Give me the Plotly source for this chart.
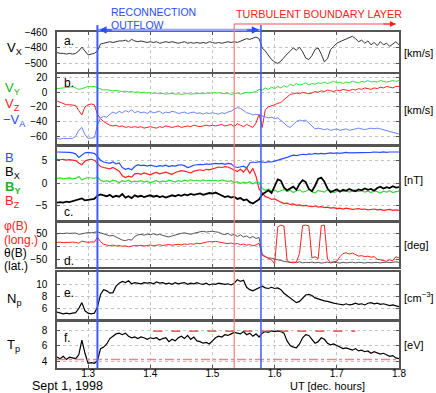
import numpy as np
import plotly.graph_objects as go

# UT in decimal hours, sampled every 0.005 h
ut = np.round(np.arange(1.25, 1.8001, 0.005), 3)

# a. Vx [km/s]
vx = [-486, -487, -487, -488, -487, -488, -487, -484, -479, -484, -489, -488, -487,
      -484,
      -475, -474, -473, -472, -473, -472, -471, -471, -470, -472, -469, -471,
      -472, -471, -472, -473, -472, -473, -472, -474, -473, -472, -473, -472, -473,
      -474, -473, -472, -474, -473, -474, -473, -474, -473, -474, -472, -473,
      -474, -473, -474, -473, -472, -473, -472, -473, -471, -470, -468, -469, -467, -466,
      -468,
      -480, -484, -490, -495, -498, -500, -497, -492, -488, -484, -480, -483, -479, -485,
      -493, -495, -490, -482, -480, -488, -498, -494, -482, -478, -474, -472, -470, -468,
      -466, -465, -468, -472, -470, -474, -471, -476, -473, -477, -472, -476, -474, -478,
      -475, -472, -476]

# b. Vy, Vz, -VA [km/s]
vy = [5, 5.5, 6, 6.5, 7, 7.5, 6, 4, 5, 7, 8, 7.5, 8,
      6,
      4, 3, 3.5, 2.5, 2, 2.5, 1.5, 1, 1.5, 0.5, 1, 0,
      0.5, -0.5, 0, -1, -0.5, -1.5, -1, -2, -1.5, -2.5, -2, -1.5, -2.5, -2, -3,
      -2, -1.5, -2.5, -2, -1, -1.5, -2, -1, -1.5, -0.5,
      -1, -0.5, -1.5, -2, -1, -3, -2, -1, -2.5, -1, 0, -1, 0.5, 1,
      4,
      3, 6, 4, 7, 5, 8, 6, 9, 7, 11, 9, 12, 10, 11, 13, 10, 12, 11, 13, 12,
      14, 12, 13, 15, 13, 14, 12, 14, 13, 15, 14, 13, 15, 14, 16, 14, 15, 14, 16, 15,
      14, 15, 16, 15, 16]
vz = [-12, -14, -16, -17, -17, -17, -18, -25, -31, -20, -17, -16, -17,
      -30,
      -36, -40, -43, -45, -46, -45, -47, -46, -48, -47, -48, -47,
      -48, -47, -49, -48, -47, -48, -49, -47, -48, -46, -47, -48, -47, -46, -48,
      -47, -46, -47, -45, -46, -47, -46, -45, -46, -45,
      -46, -45, -44, -46, -45, -44, -47, -43, -45, -47, -44, -46, -48, -42,
      -30,
      -48, -24, -20, -19, -17, -15, -14, -10, -6, -3, -2, -1, -2, 0, -1, -2, -1, 1, 0, 2,
      1, 3, 2, 1, 3, 2, 4, 3, 2, 4, 3, 5, 4, 6, 5, 4, 6, 5, 7, 6, 8, 7, 6, 8, 8]
neg_va = [-63, -64, -63, -63, -62, -63, -60, -52, -48, -58, -63, -63, -62,
          -45,
          -35, -33, -34, -30, -27, -29, -26, -28, -25, -27, -24, -28,
          -26, -28, -27, -29, -26, -28, -27, -26, -29, -27, -28, -26, -27, -29, -28,
          -27, -29, -28, -27, -29, -28, -30, -28, -29, -28,
          -29, -30, -28, -29, -27, -26, -23, -21, -22, -25, -28, -29, -31, -30,
          -31,
          -33, -34, -35, -34, -36, -35, -38, -42, -46, -48, -44, -40, -38, -39, -38,
          -42, -47, -50, -49, -50, -51, -50, -52, -51, -50, -52, -51, -50, -52, -51,
          -50, -49, -50, -51, -50, -49, -50, -49, -50, -51, -52, -53, -55, -56, -57]

# c. |B|, Bx, By, Bz [nT]
b_mag = [6.8, 6.8, 6.7, 6.8, 6.7, 6.6, 6.4, 5.6, 6.2, 6.6, 6.7, 6.6, 6.5,
         5.8,
         5.0, 4.6, 4.5, 4.3, 4.6, 4.2, 4.4, 3.4, 3.0, 3.2, 2.9, 3.6,
         4.0, 3.8, 3.9, 3.7, 3.9, 3.8, 3.6, 3.8, 3.7, 3.9, 3.6, 3.8, 3.7, 3.9, 4.0,
         3.8, 3.4, 3.6, 3.9, 4.0, 4.1, 4.0, 4.2, 4.1, 4.2,
         4.3, 4.2, 4.3, 4.1, 4.3, 4.2, 3.6, 3.4, 3.5, 3.7, 3.3, 4.4, 4.6, 4.5,
         4.7,
         4.6, 4.5, 4.7, 4.6, 4.8, 5.0, 5.1, 5.3, 5.6, 5.9, 6.1, 6.0, 6.2, 6.3, 6.2,
         6.4, 6.3, 6.5, 6.4, 6.5, 6.4, 6.5, 6.6, 6.5, 6.6, 6.5, 6.6, 6.7, 6.6, 6.6,
         6.7, 6.6, 6.7, 6.7, 6.6, 6.7, 6.8, 6.7, 6.7, 6.8, 6.7, 6.8, 6.8, 6.7, 6.8]
bx = [-4.3, -4.2, -4.3, -4.1, -4.2, -4.0, -3.9, -3.6, -3.4, -3.8, -3.7, -3.6, -3.5,
      -2.8,
      -2.5, -2.7, -2.9, -2.6, -3.1, -2.8, -3.0, -2.4, -3.2, -2.9, -3.3, -2.7,
      -3.0, -2.8, -3.1, -2.9, -2.7, -3.0, -2.8, -3.1, -2.9, -3.2, -3.0, -2.7, -2.9,
      -2.6, -2.8, -2.5, -2.7, -2.4, -2.6, -2.5, -2.3, -2.6, -2.4, -2.2, -2.3,
      -2.1, -2.4, -2.8, -3.1, -2.9, -3.2, -3.0, -3.5, -3.3, -3.8, -3.6, -4.2, -4.5, -4.1,
      -3.6,
      -2.5, -2.0, -1.6, -2.2, -0.5, 0.8, 0.5, -1.0, -1.6, -1.2, -0.8, -1.5, -0.2, 0.6,
      0.2, -1.3, -1.8, -0.6, 0.9, 1.2, 0.3, -1.2, -2.0, -1.7, -1.4, -1.9, -1.5, -1.7,
      -1.3, -1.6, -1.8, -1.4, -1.6, -1.2, -1.5, -1.3, -1.7, -1.1, -0.8, -1.2, -0.9,
      -1.1, -0.7, -1.0, -0.9]
by = [1.0, 1.1, 0.9, 1.0, 1.1, 0.9, 1.0, 1.4, 0.7, 1.0, 1.2, 1.1, 1.0,
      1.3,
      0.6, 0.3, 0.5, 0.2, 0.6, 0.4, 0.1, 0.5, 0.3, 0.6, 0.2, 0.4,
      0.3, 0.5, 0.2, 0.4, 0.1, 0.3, 0.5, 0.2, 0.4, 0.3, 0.6, 0.4, 0.2, 0.5, 0.3,
      0.6, 0.4, 0.7, 0.5, 0.6, 0.4, 0.7, 0.5, 0.6, 0.5,
      0.6, 0.4, 0.7, 0.5, 0.3, 0.5, 0.1, 0.3, -0.1, 0.2, 0.0, 0.3, -0.2, 0.2,
      0.1,
      -1.2, -1.6, -1.3, -1.8, -1.5, -2.0, -1.7, -1.4, -1.9, -1.6, -2.1, -1.7, -1.5,
      -2.0, -1.8, -1.4, -1.9, -2.2, -1.6, -1.8, -2.0, -1.5, -1.7, -2.1, -1.8, -1.6,
      -1.9, -1.7, -2.0, -1.8, -1.5, -1.9, -1.7, -2.0, -1.8, -2.1, -1.7, -1.9, -2.2,
      -1.8, -2.0, -1.7, -2.1, -1.9, -1.8]
bz = [5.2, 5.1, 5.2, 5.0, 5.1, 5.0, 4.9, 4.4, 4.0, 4.8, 5.1, 5.2, 5.0,
      4.3,
      3.6, 3.4, 3.3, 3.1, 3.4, 3.0, 2.6, 1.6, 1.2, 1.5, 1.3, 2.0,
      2.1, 1.9, 2.2, 2.0, 1.8, 2.1, 2.3, 2.0, 2.2, 2.4, 2.1, 1.9, 2.3, 2.5, 2.7,
      2.6, 2.4, 2.2, 2.6, 2.8, 2.9, 2.7, 3.0, 2.9, 3.1,
      3.3, 3.5, 3.4, 3.6, 3.5, 3.2, 2.8, 2.5, 3.0, 2.4, 3.3, 2.1, 3.2, 1.5,
      -1.3,
      -2.2, -3.0, -3.2, -3.6, -3.5, -3.9, -4.2, -4.5, -4.4, -4.7, -4.6, -4.9, -4.8,
      -5.0, -4.9, -5.1, -5.2, -5.0, -5.3, -5.2, -5.4, -5.3, -5.5, -5.4, -5.6, -5.5,
      -5.7, -5.5, -5.6, -5.8, -5.7, -5.6, -5.8, -5.7, -5.9, -5.8, -5.7, -5.9, -5.8,
      -6.0, -5.9, -5.8, -6.0, -5.9, -6.0]

# d. field angles [deg]
theta = [48, 50, 49, 51, 50, 52, 51, 46, 49, 52, 53, 52, 54,
         56,
         52, 48, 45, 40, 42, 36, 30, 24, 22, 26, 24, 38,
         44, 46, 43, 47, 45, 48, 44, 46, 42, 38, 36, 40, 44, 47, 50, 52, 48, 46, 50,
         54, 56, 58, 55, 57, 58,
         56, 54, 48, 45, 50, 42, 46, 38, 44, 36, 40, 32, 38, 30,
         34,
         -30, -40, -45, -46, -50, -52, -55, -58, -60, -62, -61, -63, -60, -64, -62,
         -63, -61, -64, -62, -65, -63, -61, -64, -62, -63, -65, -62, -64, -63, -61,
         -64, -62, -63, -65, -62, -64, -63, -62, -64, -63, -61, -63, -62, -60, -62]
phi = [15, 16, 14, 15, 17, 16, 15, 12, 20, 16, 15, 17, 16,
       35,
       18, 8, 4, 2, 5, 1, 3, 0, 2, -2, 1, 3,
       2, 4, 1, 3, 5, 2, 4, 6, 3, 5, 7, 4, 6, 8, 5, 9, 7, 10, 8, 12, 10, 14, 16, 18, 17,
       19, 16, 14, 12, 10, 13, 8, 11, 6, 9, 4, 7, 2, 5,
       12,
       -35, -40, -48, -52, -68, 75, 82, 78, -55, -62, -64, -60, -28, 80, 82, 79,
       -45, -40, -48, 80, 82, -50, -62, -60, -58, -40, -28, -25, -30, -26, -32,
       -38, -36, -40, -38, -42, -40, -50, -52, -55, -58, -52, -56, -40, -45]

# e. Np [cm^-3]
n_p = [5.4, 5.2, 5.1, 5.2, 5.1, 5.2, 5.3, 6.0, 7.0, 5.6, 5.2, 5.1, 5.2,
       6.2,
       8.4, 9.2, 9.0, 8.6, 8.7, 9.8, 10.3, 10.6, 10.4, 10.7, 10.2, 10.4,
       10.3, 10.2, 10.4, 10.3, 10.4, 10.2, 10.5, 10.3, 10.4, 10.2, 10.3, 10.1, 10.4,
       10.2, 10.3, 10.4, 10.1, 10.3, 10.2, 10.4, 10.2, 10.1, 10.3, 10.0, 10.2,
       10.1, 10.3, 10.2, 10.1, 10.2, 10.0, 10.3, 10.9, 10.6, 10.8, 9.6, 9.2, 9.0, 9.3,
       9.6,
       9.8, 9.5, 9.4, 9.6, 9.4, 9.5, 9.2, 8.6, 8.2, 7.9, 7.4, 7.0, 7.2, 7.8, 8.3,
       8.4, 8.2, 7.8, 7.6, 7.5, 7.3, 7.2, 7.0, 6.9, 6.8, 6.7, 6.6, 6.8, 6.6, 6.7,
       6.9, 6.7, 6.8, 6.6, 6.9, 7.0, 6.8, 6.9, 6.7, 6.8, 6.6, 6.5, 6.6, 6.4, 6.3]

# f. Tp [eV]
t_p = [4.5, 4.3, 4.6, 4.2, 4.5, 4.4, 4.3, 4.8, 6.7, 5.0, 3.7, 3.8, 3.7,
       4.0,
       5.6, 5.8, 6.2, 6.9, 7.2, 7.5, 7.6, 7.4, 7.6, 7.2, 7.0, 7.1,
       6.9, 7.1, 7.0, 6.8, 7.0, 6.9, 7.0, 6.7, 6.9, 7.0, 6.5, 6.8, 6.6, 7.0, 7.2,
       6.9, 7.3, 6.8, 7.1, 6.6, 6.5, 6.3, 6.4, 6.2, 6.6,
       7.0, 7.2, 7.1, 7.4, 7.3, 7.5, 7.7, 7.6, 7.5, 7.8, 7.4, 7.6, 7.2, 7.5,
       7.1,
       7.6, 7.8, 7.7, 7.9, 7.8, 7.9, 7.8, 7.6, 6.6, 6.0, 5.8, 5.7, 6.2, 7.0, 7.4,
       7.3, 6.8, 6.3, 6.5, 7.0, 6.8, 6.3, 6.1, 6.2, 6.0, 5.8, 5.6, 5.7, 5.5, 5.4,
       5.6, 5.3, 5.4, 5.2, 5.3, 5.0, 5.2, 5.1, 4.9, 5.0, 4.8, 4.6, 4.7, 4.4, 4.3]

# reference temperature levels in panel f
tp_high_x = [1.405, 1.73]
tp_high_y = [7.85, 7.85]
tp_low_x = [1.25, 1.8]
tp_low_y = [4.2, 4.2]

# event times [UT dec. hours]
t_outflow_start = 1.315
t_tbl_start = 1.535
t_outflow_end = 1.578
t_tbl_end = 1.795

X_RANGE = [1.25, 1.8]

# page geometry (pixels)
W, H = 436, 393
PLOT_L, PLOT_R, PLOT_T, PLOT_B = 57, 399, 32, 368
ML, MT = PLOT_L, PLOT_T
MR, MB = W - PLOT_R, H - PLOT_B
PW = PLOT_R - PLOT_L
PH = PLOT_B - PLOT_T


def px(xp):
    return (xp - PLOT_L) / PW


def py(yp):
    return (PLOT_B - yp) / PH


def tx(t):
    return (t - X_RANGE[0]) / (X_RANGE[1] - X_RANGE[0])


RED = '#ff2020'
GREEN = '#33dd33'
BLUE = '#2a4cff'
LBLUE = '#6a82ff'
FONT = 'Liberation Sans, Arial, sans-serif'

# panel pixel extents (top, bottom)
panels = [(32, 72), (74, 143.5), (146.5, 219.5), (223, 267), (272, 318.5), (321.5, 368)]
y_ranges = [[-511, -459.5], [-70, 25], [-8, 8], [-80, 90], [4.3, 12.2], [3.1, 9.1]]
y_ticks = [[-500, -480, -460], [-60, -40, -20, 0, 20], [-5, 0, 5], [-50, 0, 50], [6, 8, 10], [4, 6, 8]]

fig = go.Figure()


def add(k, y, color, width):
    suffix = '' if k == 1 else str(k)
    fig.add_trace(go.Scatter(x=ut, y=y, mode='lines', line=dict(color=color, width=width),
                             xaxis='x' + suffix, yaxis='y' + suffix, hoverinfo='skip'))


add(1, vx, '#333333', 1)
add(2, vy, GREEN, 1)
add(2, vz, RED, 1)
add(2, neg_va, LBLUE, 1)
add(3, b_mag, BLUE, 1.2)
add(3, bz, RED, 1.2)
add(3, by, GREEN, 1.2)
add(3, bx, 'black', 1.8)
add(4, theta, '#555555', 1)
add(4, phi, RED, 1)
add(5, n_p, 'black', 1.2)
add(6, t_p, 'black', 1.2)
fig.add_trace(go.Scatter(x=tp_high_x, y=tp_high_y, mode='lines', xaxis='x6', yaxis='y6',
                         line=dict(color='#ee3333', width=1.2, dash='dash'), hoverinfo='skip'))
fig.add_trace(go.Scatter(x=tp_low_x, y=tp_low_y, mode='lines', xaxis='x6', yaxis='y6',
                         line=dict(color='#ff8080', width=1.5, dash='dashdot'), hoverinfo='skip'))

axis_common = dict(showline=True, mirror='ticks', linecolor='#555555', linewidth=1.5,
                   ticks='inside', ticklen=3, tickcolor='#555555', automargin=False,
                   showgrid=True, gridcolor='#c4c4c4', griddash='dot', gridwidth=1,
                   zeroline=False, tickfont=dict(size=10, color='black', family=FONT))

layout = dict(width=W, height=H, margin=dict(l=ML, r=MR, t=MT, b=MB, autoexpand=False),
              paper_bgcolor='white', plot_bgcolor='white', showlegend=False,
              font=dict(family=FONT, color='black'))

for k in range(1, 7):
    suffix = '' if k == 1 else str(k)
    top, bot = panels[k - 1]
    layout['xaxis' + suffix] = dict(axis_common, domain=[0, 1], range=X_RANGE,
                                    anchor='y' + suffix,
                                    tickvals=[1.3, 1.4, 1.5, 1.6, 1.7, 1.8],
                                    ticktext=['1.3', '1.4', '1.5', '1.6', '1.7', '1.8'],
                                    showticklabels=(k == 6), ticklabelstandoff=-5)
    layout['yaxis' + suffix] = dict(axis_common, domain=[py(bot), py(top)],
                                    range=y_ranges[k - 1], anchor='x' + suffix,
                                    tickvals=y_ticks[k - 1], ticklabelstandoff=6)

fig.update_layout(**layout)

ann = []


def label(text, xp, yp, color='black', size=13, anchor='left'):
    ann.append(dict(text=text, x=px(xp), y=py(yp), xref='paper', yref='paper',
                    xanchor=anchor, yanchor='middle', showarrow=False,
                    font=dict(size=size, color=color, family=FONT)))


# quantity labels on the left
label('V<sub>X</sub>', 5, 48)
label('V<sub>Y</sub>', 3, 89, '#22b022')
label('V<sub>Z</sub>', 3, 104, RED)
label('−V<sub>A</sub>', 1, 121, BLUE)
label('B', 3, 157, BLUE)
label('B<sub>X</sub>', 3, 172)
label('<b>B<sub>Y</sub></b>', 3, 187, '#22b022')
label('B<sub>Z</sub>', 3, 201, RED)
label('φ(B)', 2, 226, RED, 12)
label('(long.)', 2, 240, RED, 12)
label('θ(B)', 2, 253, 'black', 12)
label('(lat.)', 2, 266, 'black', 12)
label('N<sub>p</sub>', 5, 299)
label('T<sub>p</sub>', 5, 345)

# units on the right
label('[km/s]', 402, 53, size=11)
label('[km/s]', 402, 110, size=11)
label('[nT]', 402, 180, size=11)
label('[deg]', 402, 245, size=11)
label('[cm<sup>−3</sup>]', 402, 297, size=11)
label('[eV]', 402, 345, size=11)

# panel letters
for letter, yp in zip(['a.', 'b.', 'c.', 'd.', 'e.', 'f.'], [41, 83, 212, 261, 293, 338]):
    label(letter, 62, yp, size=12)

label('Sept 1, 1998', 67, 386, size=12.5, anchor='center')
label('UT [dec. hours]', 327, 386, size=11, anchor='center')

label('RECONNECTION', 109, 12, BLUE, 10.5)
label('OUTFLOW', 109, 25, BLUE, 10.5)
label('TURBULENT BOUNDARY LAYER', 234, 14, RED, 10.8)

# arrow heads
y_blue_arrow = py(30)
y_red_arrow = py(24)
ann.append(dict(x=tx(t_outflow_start) + 0.005, y=y_blue_arrow, xref='paper', yref='paper',
                ax=14, ay=0, showarrow=True, arrowhead=2, arrowsize=1, arrowwidth=1.5,
                arrowcolor=BLUE, text=''))
ann.append(dict(x=tx(t_outflow_end) - 0.005, y=y_blue_arrow, xref='paper', yref='paper',
                ax=-14, ay=0, showarrow=True, arrowhead=2, arrowsize=1, arrowwidth=1.5,
                arrowcolor=BLUE, text=''))
ann.append(dict(x=tx(t_tbl_end), y=y_red_arrow, xref='paper', yref='paper',
                ax=-14, ay=0, showarrow=True, arrowhead=2, arrowsize=1, arrowwidth=1.2,
                arrowcolor=RED, text=''))
fig.update_layout(annotations=ann)

shapes = [
    dict(type='line', xref='paper', yref='paper', x0=tx(t_outflow_start), x1=tx(t_outflow_end),
         y0=y_blue_arrow, y1=y_blue_arrow, line=dict(color='#95a5ff', width=2.5)),
    dict(type='line', xref='paper', yref='paper', x0=tx(t_tbl_start), x1=tx(t_tbl_end),
         y0=y_red_arrow, y1=y_red_arrow, line=dict(color='#ff5050', width=1.2)),
    dict(type='line', xref='paper', yref='paper', x0=tx(t_tbl_start), x1=tx(t_tbl_start),
         y0=0, y1=y_red_arrow, line=dict(color='#ff7a7a', width=1.2)),
    dict(type='line', xref='paper', yref='paper', x0=tx(t_outflow_start), x1=tx(t_outflow_start),
         y0=0, y1=py(25), line=dict(color='#3d5cff', width=2)),
    dict(type='line', xref='paper', yref='paper', x0=tx(t_outflow_end), x1=tx(t_outflow_end),
         y0=0, y1=py(25), line=dict(color='#3d5cff', width=1.5)),
]
fig.update_layout(shapes=shapes)

# the page body has a default 8 px margin; drop it so the figure fills the window
fig.write_html("out.html", config={'displayModeBar': False},
               post_script="document.body.style.margin = '0px';")
